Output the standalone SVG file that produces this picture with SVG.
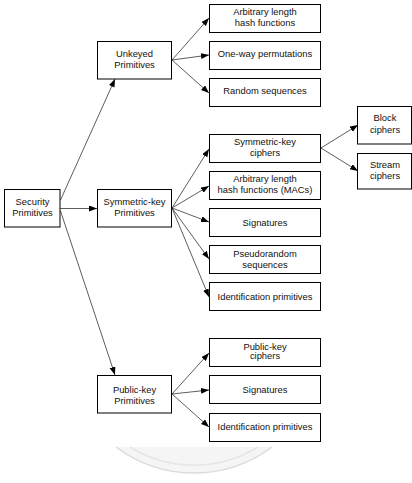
<svg xmlns="http://www.w3.org/2000/svg" width="412" height="483" viewBox="0 0 412 483">
<style>
.box{fill:#fff;stroke:#000;stroke-width:1}
.t{font-family:"Liberation Sans",Arial,sans-serif;font-size:9.4px;fill:#111;text-anchor:middle}
.c{fill:none;stroke:#333;stroke-width:0.8;marker-end:url(#ah)}
</style>
<defs>
<marker id="ah" markerUnits="userSpaceOnUse" markerWidth="9" markerHeight="7" refX="8" refY="3" orient="auto">
<path d="M0,0 L8,3 L0,6 z" fill="#000"/>
</marker>
</defs>
<rect width="412" height="483" fill="#fff"/>
<g id="watermark">
<path d="M116,447 A130,130 0 0 0 272,447 Z" fill="#f5f5f5"/>
<path d="M116,447 A130,130 0 0 0 272,447" fill="none" stroke="#dadada" stroke-width="1.5"/>
<path d="M130,447 A122,122 0 0 0 258,447" fill="none" stroke="#e6e6e6" stroke-width="1.5"/>
</g>
<g id="connectors">
<path class="c" d="M60.5,200 L115,79"/>
<path class="c" stroke="#000" stroke-width="1.1" d="M60,208.5 L97,208.5"/>
<path class="c" d="M60.5,211 L115,375"/>
<path class="c" d="M172,60 L209,18"/>
<path class="c" d="M172,60 L209,55"/>
<path class="c" d="M172,60 L209,93"/>
<path class="c" d="M172,208 L209,149"/>
<path class="c" d="M172,208 L209,186"/>
<path class="c" d="M172,208 L209,222"/>
<path class="c" d="M172,208 L209,259"/>
<path class="c" d="M172,208 L209,297"/>
<path class="c" d="M321,148 L358,125"/>
<path class="c" d="M321,148 L358,171"/>
<path class="c" d="M172,394 L209,353"/>
<path class="c" d="M172,394 L209,390"/>
<path class="c" d="M172,394 L209,427"/>
</g>
<g id="security"><rect class="box" x="4.5" y="189.5" width="55.5" height="37.5"/><text class="t" x="32.5" y="204.5">Security</text><text class="t" x="32.5" y="215.5">Primitives</text></g>
<g id="unkeyed"><rect class="box" x="97.5" y="41.5" width="74" height="37.5"/><text class="t" x="134.5" y="57">Unkeyed</text><text class="t" x="134.5" y="68">Primitives</text></g>
<g id="symprim"><rect class="box" x="97.5" y="189.5" width="74" height="37.5"/><text class="t" x="134.5" y="204.5">Symmetric-key</text><text class="t" x="134.5" y="215.5">Primitives</text></g>
<g id="pubprim"><rect class="box" x="97.5" y="375.5" width="74" height="37.5"/><text class="t" x="134.5" y="392.5">Public-key</text><text class="t" x="134.5" y="403.5">Primitives</text></g>
<g id="hash"><rect class="box" x="209.5" y="4.5" width="111" height="28"/><text class="t" x="265" y="15">Arbitrary length</text><text class="t" x="265" y="26">hash functions</text></g>
<g id="oneway"><rect class="box" x="209.5" y="41.5" width="111" height="28"/><text class="t" x="265" y="56.5">One-way permutations</text></g>
<g id="random"><rect class="box" x="209.5" y="78.5" width="111" height="28"/><text class="t" x="265" y="93.5">Random sequences</text></g>
<g id="symciph"><rect class="box" x="209.5" y="134.5" width="111" height="28"/><text class="t" x="265" y="145">Symmetric-key</text><text class="t" x="265" y="156">ciphers</text></g>
<g id="mac"><rect class="box" x="209.5" y="171.5" width="111" height="28"/><text class="t" x="265" y="182">Arbitrary length</text><text class="t" x="265" y="193">hash functions (MACs)</text></g>
<g id="sig1"><rect class="box" x="209.5" y="208.5" width="111" height="28"/><text class="t" x="265" y="225.5">Signatures</text></g>
<g id="prng"><rect class="box" x="209.5" y="245.5" width="111" height="28"/><text class="t" x="265" y="257">Pseudorandom</text><text class="t" x="265" y="267.5">sequences</text></g>
<g id="ident1"><rect class="box" x="209.5" y="282.5" width="111" height="28"/><text class="t" x="265" y="299.5">Identification primitives</text></g>
<g id="pkc"><rect class="box" x="209.5" y="338.5" width="111" height="28"/><text class="t" x="265" y="349.5">Public-key</text><text class="t" x="265" y="359">ciphers</text></g>
<g id="sig2"><rect class="box" x="209.5" y="375.5" width="111" height="28"/><text class="t" x="265" y="392.5">Signatures</text></g>
<g id="ident2"><rect class="box" x="209.5" y="413.5" width="111" height="28"/><text class="t" x="265" y="430">Identification primitives</text></g>
<g id="block"><rect class="box" x="357.5" y="106.5" width="54" height="37.5"/><text class="t" x="385" y="121">Block</text><text class="t" x="385" y="132.5">ciphers</text></g>
<g id="stream"><rect class="box" x="357.5" y="153.5" width="54" height="35.5"/><text class="t" x="385" y="167.5">Stream</text><text class="t" x="385" y="179">ciphers</text></g>
</svg>
